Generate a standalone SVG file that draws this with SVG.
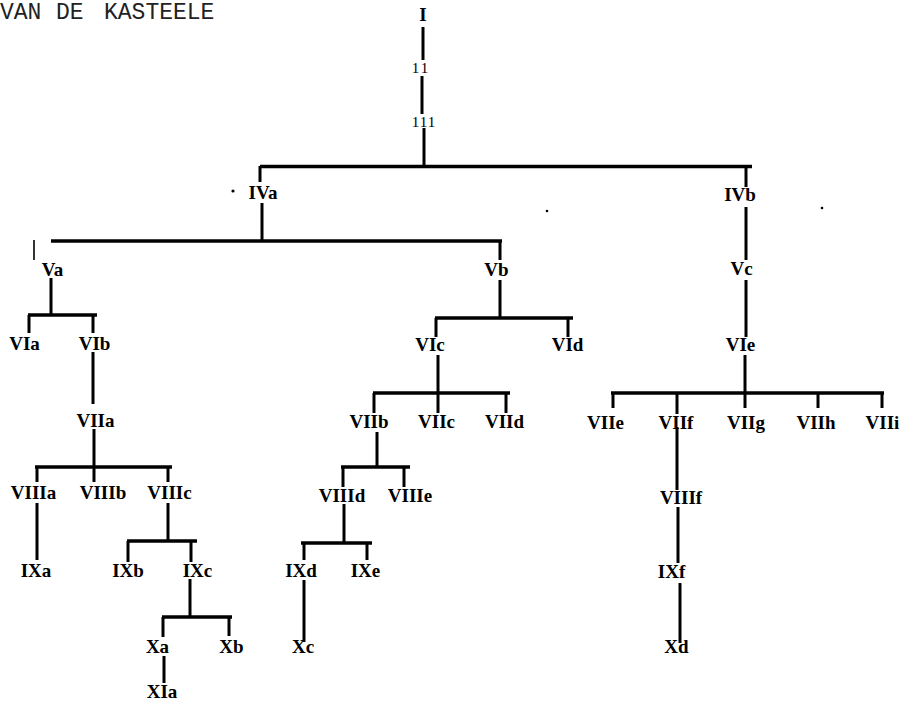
<svg xmlns="http://www.w3.org/2000/svg" width="903" height="704" viewBox="0 0 903 704">
<style>
.n{font-family:"Liberation Serif","Times New Roman",serif;font-weight:bold;font-size:19px;fill:#000;text-anchor:middle}
.r{font-family:"Liberation Serif","Times New Roman",serif;font-size:15px;fill:#000;text-anchor:middle}
.h{font-family:"Liberation Mono","Courier New",monospace;font-size:23px;fill:#222}
.c line{stroke:#000;stroke-width:3;stroke-linecap:butt}
.c line.b{stroke-width:3.6}
.c line.t{stroke-width:1.6}
</style>
<rect width="903" height="704" fill="#fff"/>
<text class="h" y="19"><tspan x="0">VAN</tspan><tspan x="56">DE</tspan><tspan x="104">KASTEELE</tspan></text>
<g id="connectors" class="c">
<line x1="423" y1="27" x2="423" y2="60"/>
<line x1="422" y1="76" x2="422" y2="114"/>
<line x1="424" y1="128" x2="424" y2="166"/>
<line class="b" x1="260" y1="166.5" x2="752" y2="166.5"/>
<line x1="260" y1="166" x2="260" y2="182"/>
<line x1="746" y1="166" x2="746" y2="187"/>
<line x1="262" y1="203" x2="262" y2="241"/>
<line class="b" x1="51" y1="241" x2="502" y2="241"/>
<line class="t" x1="34" y1="240" x2="34" y2="260"/>
<line x1="500" y1="241" x2="500" y2="260"/>
<line x1="51" y1="278" x2="51" y2="315"/>
<line class="b" x1="28" y1="315" x2="97" y2="315"/>
<line x1="29" y1="315" x2="29" y2="333"/>
<line x1="93" y1="315" x2="93" y2="333"/>
<line x1="93" y1="352" x2="93" y2="404"/>
<line x1="94" y1="429" x2="94" y2="467"/>
<line class="b" x1="35" y1="467" x2="172" y2="467"/>
<line x1="37" y1="467" x2="37" y2="482"/>
<line x1="94" y1="467" x2="94" y2="482"/>
<line x1="168" y1="467" x2="168" y2="482"/>
<line x1="37" y1="503" x2="37" y2="560"/>
<line x1="168" y1="503" x2="168" y2="541"/>
<line class="b" x1="127" y1="541" x2="197" y2="541"/>
<line x1="128" y1="541" x2="128" y2="562"/>
<line x1="191" y1="541" x2="191" y2="562"/>
<line x1="190" y1="579" x2="190" y2="617"/>
<line class="b" x1="162" y1="617" x2="232" y2="617"/>
<line x1="163" y1="617" x2="163" y2="637"/>
<line x1="229" y1="617" x2="229" y2="636"/>
<line x1="164" y1="656" x2="164" y2="683"/>
<line x1="500" y1="280" x2="500" y2="318"/>
<line class="b" x1="435" y1="318" x2="573" y2="318"/>
<line x1="436" y1="318" x2="436" y2="337"/>
<line x1="568" y1="318" x2="568" y2="337"/>
<line x1="438" y1="355" x2="438" y2="393"/>
<line class="b" x1="373" y1="393" x2="510" y2="393"/>
<line x1="374" y1="393" x2="374" y2="413"/>
<line x1="438" y1="393" x2="438" y2="413"/>
<line x1="506" y1="393" x2="506" y2="413"/>
<line x1="377" y1="432" x2="377" y2="467"/>
<line class="b" x1="341" y1="467" x2="410" y2="467"/>
<line x1="343" y1="467" x2="343" y2="487"/>
<line x1="404" y1="467" x2="404" y2="487"/>
<line x1="344" y1="504" x2="344" y2="543"/>
<line class="b" x1="301" y1="543" x2="372" y2="543"/>
<line x1="304" y1="543" x2="304" y2="560"/>
<line x1="367" y1="543" x2="367" y2="560"/>
<line x1="304" y1="580" x2="304" y2="642"/>
<line x1="746" y1="207" x2="746" y2="260"/>
<line x1="746" y1="280" x2="746" y2="337"/>
<line x1="745" y1="355" x2="745" y2="393"/>
<line class="b" x1="611" y1="393" x2="884" y2="393"/>
<line x1="613" y1="393" x2="613" y2="408"/>
<line x1="677" y1="393" x2="677" y2="414"/>
<line x1="745" y1="393" x2="745" y2="408"/>
<line x1="818" y1="393" x2="818" y2="408"/>
<line x1="882" y1="393" x2="882" y2="408"/>
<line x1="677" y1="427" x2="677" y2="490"/>
<line x1="678" y1="507" x2="678" y2="563"/>
<line x1="680" y1="583" x2="680" y2="643"/>
</g>
<g id="specks" fill="#000">
<circle cx="233" cy="191" r="1.6"/>
<circle cx="547" cy="211" r="1.3"/>
<circle cx="822" cy="208" r="1.3"/>
</g>
<g id="n-I"><text class="n" x="423" y="21">I</text></g>
<g id="n-II"><text class="r" x="421" y="73" letter-spacing="2">11</text></g>
<g id="n-III"><text class="r" x="424" y="127" letter-spacing="1">111</text></g>
<g id="n-IVa"><text class="n" x="263" y="199">IVa</text></g>
<g id="n-IVb"><text class="n" x="740" y="201">IVb</text></g>
<g id="n-Va"><text class="n" x="52.5" y="276">Va</text></g>
<g id="n-Vb"><text class="n" x="496.5" y="276">Vb</text></g>
<g id="n-Vc"><text class="n" x="741.5" y="275">Vc</text></g>
<g id="n-VIa"><text class="n" x="24.5" y="350">VIa</text></g>
<g id="n-VIb"><text class="n" x="94.5" y="350">VIb</text></g>
<g id="n-VIc"><text class="n" x="430" y="351">VIc</text></g>
<g id="n-VId"><text class="n" x="567.5" y="351">VId</text></g>
<g id="n-VIe"><text class="n" x="740.5" y="351">VIe</text></g>
<g id="n-VIIa"><text class="n" x="95.5" y="427">VIIa</text></g>
<g id="n-VIIb"><text class="n" x="369" y="428">VIIb</text></g>
<g id="n-VIIc"><text class="n" x="436.5" y="428">VIIc</text></g>
<g id="n-VIId"><text class="n" x="504.5" y="428">VIId</text></g>
<g id="n-VIIe"><text class="n" x="605.5" y="429">VIIe</text></g>
<g id="n-VIIf"><text class="n" x="676" y="429">VIIf</text></g>
<g id="n-VIIg"><text class="n" x="746" y="429">VIIg</text></g>
<g id="n-VIIh"><text class="n" x="816" y="429">VIIh</text></g>
<g id="n-VIIi"><text class="n" x="882.5" y="429">VIIi</text></g>
<g id="n-VIIIa"><text class="n" x="33.5" y="499">VIIIa</text></g>
<g id="n-VIIIb"><text class="n" x="103" y="499">VIIIb</text></g>
<g id="n-VIIIc"><text class="n" x="169.5" y="499">VIIIc</text></g>
<g id="n-VIIId"><text class="n" x="342" y="502">VIIId</text></g>
<g id="n-VIIIe"><text class="n" x="410" y="502">VIIIe</text></g>
<g id="n-VIIIf"><text class="n" x="681" y="504">VIIIf</text></g>
<g id="n-IXa"><text class="n" x="36" y="577">IXa</text></g>
<g id="n-IXb"><text class="n" x="128" y="577">IXb</text></g>
<g id="n-IXc"><text class="n" x="197.5" y="577">IXc</text></g>
<g id="n-IXd"><text class="n" x="301" y="577">IXd</text></g>
<g id="n-IXe"><text class="n" x="365.5" y="577">IXe</text></g>
<g id="n-IXf"><text class="n" x="671.5" y="578">IXf</text></g>
<g id="n-Xa"><text class="n" x="157.5" y="653">Xa</text></g>
<g id="n-Xb"><text class="n" x="231.5" y="653">Xb</text></g>
<g id="n-Xc"><text class="n" x="303" y="653">Xc</text></g>
<g id="n-Xd"><text class="n" x="676.5" y="653">Xd</text></g>
<g id="n-XIa"><text class="n" x="162" y="698">XIa</text></g>
</svg>
